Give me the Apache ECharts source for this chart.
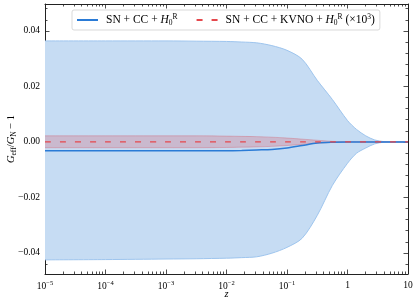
<!DOCTYPE html>
<html><head><meta charset="utf-8">
<script src="https://cdn.jsdelivr.net/npm/echarts@6/dist/echarts.min.js"></script>
<style>html,body{margin:0;padding:0;background:#fff}#c{width:415px;height:301px}</style>
</head><body><div id="c"></div>
<script>
// redshift sample points
const zValues = [1e-5, 1e-4, 1e-3, 0.00316, 0.01, 0.0178, 0.0316, 0.0562, 0.1, 0.178, 0.316, 0.562, 1, 1.41, 2, 2.82, 4, 5.62, 10];
// SN + CC + H0R : band and central line
const blueUpper   = [0.0364, 0.0364, 0.0364, 0.0363, 0.0362, 0.0360, 0.0357, 0.0347, 0.0330, 0.0298, 0.0222, 0.0153, 0.0077, 0.0045, 0.0022, 0.0007, 0.0001, 0, 0];
const blueLower   = [-0.0425, -0.0424, -0.0422, -0.0421, -0.0419, -0.0417, -0.0414, -0.0401, -0.0380, -0.0347, -0.0265, -0.0157, -0.0077, -0.0041, -0.0022, -0.0007, -0.0001, 0, 0];
const blueCentral = [-0.0032, -0.0032, -0.0032, -0.0032, -0.0032, -0.0031, -0.0029, -0.0027, -0.0022, -0.0013, -0.0004, -0.0001, 0, 0, 0, 0, 0, 0, 0];
// SN + CC + KVNO + H0R (x10^3) : band and central line
const redUpper    = [0.0022, 0.0022, 0.0022, 0.0022, 0.0021, 0.0020, 0.0019, 0.0017, 0.0014, 0.0010, 0.0006, 0.0002, 0.00005, 0, 0, 0, 0, 0, 0];
const redLower    = [-0.0021, -0.0021, -0.0021, -0.0021, -0.0020, -0.0019, -0.0018, -0.0016, -0.0013, -0.0009, -0.0005, -0.0002, -0.00005, 0, 0, 0, 0, 0, 0];
const redCentral  = [0, 0, 0, 0, 0, 0, 0, 0, 0, 0, 0, 0, 0, 0, 0, 0, 0, 0, 0];
// ticks
const yMajorTicks = [-0.04, -0.02, 0, 0.02, 0.04];
const xMajorTicks = [1e-5, 1e-4, 1e-3, 1e-2, 1e-1, 1, 10];
const yMin = -0.0476, yMax = 0.0497;

const yMinorTicks = [];
for (let k = -11; k <= 12; k++) { if (k % 5 !== 0) yMinorTicks.push(+(k * 0.004).toFixed(4)); }
const xMinorTicks = [];
for (let e = -5; e <= 0; e++) for (let m = 2; m <= 9; m++) xMinorTicks.push(+(m * Math.pow(10, e)).toPrecision(3));

const FONT = 'Liberation Serif';
const pair = (arr) => zValues.map((z, i) => [z, arr[i]]);
const axisCol = '#222';

function xAxisDef(pos, ticks, len, showLine, showLabel) {
  return {
    type: 'log', logBase: 10, min: 1e-5, max: 10, position: pos, gridIndex: 0,
    axisLine: { show: showLine, onZero: false, lineStyle: { color: axisCol, width: 1 } },
    axisTick: { show: true, inside: true, length: len, customValues: ticks, lineStyle: { color: axisCol, width: 0.8 } },
    axisLabel: showLabel ? {
      show: true, customValues: xMajorTicks, margin: 6, color: '#000', fontFamily: FONT, fontSize: 9.5,
      formatter: (v) => {
        const e = Math.round(Math.log10(v));
        if (e === 0) return '1';
        if (e === 1) return '10';
        return '10{sup|' + (e < 0 ? '\u2212' : '') + Math.abs(e) + '}';
      },
      rich: { sup: { fontSize: 6.5, fontFamily: FONT, color: '#000', padding: [0, 0, 6, 0] } }
    } : { show: false },
    splitLine: { show: false }, minorTick: { show: false }, minorSplitLine: { show: false },
    name: showLabel ? 'z' : '', nameLocation: 'middle', nameGap: 15, nameMoveOverlap: false,
    nameTextStyle: { fontFamily: FONT, fontStyle: 'italic', fontSize: 10.5, color: '#000' }
  };
}
function yAxisDef(pos, ticks, len, showLine, showLabel) {
  return {
    type: 'value', min: yMin, max: yMax, position: pos, gridIndex: 0,
    axisLine: { show: showLine, onZero: false, lineStyle: { color: axisCol, width: 1 } },
    axisTick: { show: true, inside: true, length: len, customValues: ticks, lineStyle: { color: axisCol, width: 0.8 } },
    axisLabel: showLabel ? {
      show: true, customValues: yMajorTicks, margin: 5, color: '#000', fontFamily: FONT, fontSize: 9.5,
      formatter: (v) => (v < 0 ? '\u2212' : '') + Math.abs(v).toFixed(2)
    } : { show: false },
    splitLine: { show: false },
    name: showLabel ? '{i|G}{sub|eff}{n|/}{i|G}{sub|N}{n| \u2212 1}' : '',
    nameLocation: 'middle', nameGap: 27, nameRotate: 90, nameMoveOverlap: false,
    nameTextStyle: {
      fontFamily: FONT, fontSize: 10.5, color: '#000',
      rich: {
        i: { fontFamily: FONT, fontStyle: 'italic', fontSize: 10.5, color: '#000' },
        n: { fontFamily: FONT, fontSize: 10.5, color: '#000' },
        sub: { fontFamily: FONT, fontSize: 7.5, color: '#000', padding: [5, 0, 0, 0] }
      }
    }
  };
}

const LFS = 11.5;
const legendRich = {
  t: { fontFamily: FONT, fontSize: LFS, color: '#000' },
  i: { fontFamily: FONT, fontStyle: 'italic', fontSize: LFS, color: '#000' },
  sub: { fontFamily: FONT, fontSize: 7.5, color: '#000', padding: [6, 0, 0, 0] },
  sup: { fontFamily: FONT, fontSize: 7.5, color: '#000', padding: [0, 0, 6, 0] }
};

const chart = echarts.init(document.getElementById('c'), null, { renderer: 'canvas' });
chart.setOption({
  animation: false,
  backgroundColor: '#fff',
  grid: { left: 45, right: 7, top: 4, bottom: 27, containLabel: false, outerBoundsMode: 'none' },
  xAxis: [
    xAxisDef('bottom', xMajorTicks, 4.5, true, true),
    xAxisDef('bottom', xMinorTicks, 2.5, false, false),
    xAxisDef('top', xMajorTicks, 4.5, true, false),
    xAxisDef('top', xMinorTicks, 2.5, false, false)
  ],
  yAxis: [
    yAxisDef('left', yMajorTicks, 4.5, true, true),
    yAxisDef('left', yMinorTicks, 2.5, false, false),
    yAxisDef('right', yMajorTicks, 4.5, true, false),
    yAxisDef('right', yMinorTicks, 2.5, false, false)
  ],
  legend: {
    data: ['blue', 'red'],
    left: 72, top: 10,
    itemWidth: 21, itemHeight: 10, itemGap: 18,
    padding: [3, 5, 3, 4],
    backgroundColor: '#fff', borderColor: '#cfcfcf', borderWidth: 0.8, borderRadius: 2,
    selectedMode: false,
    itemStyle: { opacity: 0 },
    textStyle: { fontFamily: FONT, fontSize: LFS, color: '#000', padding: [0, 0, 0, 3], rich: legendRich },
    formatter: (name) => name === 'blue'
      ? '{t|SN + CC + }{i|H}{sub|0}{sup|R}'
      : '{t|SN + CC + KVNO + }{i|H}{sub|0}{sup|R}{t| (\u00d710}{sup|3}{t|)}'
  },
  series: [
    { name: 'blueBandU', type: 'line', data: pair(blueUpper), symbol: 'none', smooth: 0.3, z: 1,
      lineStyle: { color: '#9ec5ee', width: 1 }, areaStyle: { color: '#c6dcf3', opacity: 1, origin: 0 } },
    { name: 'blueBandL', type: 'line', data: pair(blueLower), symbol: 'none', smooth: 0.3, z: 1,
      lineStyle: { color: '#9ec5ee', width: 1 }, areaStyle: { color: '#c6dcf3', opacity: 1, origin: 0 } },
    { name: 'redBandU', type: 'line', data: pair(redUpper), symbol: 'none', smooth: 0.3, z: 2,
      lineStyle: { color: 'rgba(215,60,70,0.35)', width: 0.8 }, areaStyle: { color: 'rgb(220,45,60)', opacity: 0.2, origin: 0 } },
    { name: 'redBandL', type: 'line', data: pair(redLower), symbol: 'none', smooth: 0.3, z: 2,
      lineStyle: { color: 'rgba(215,60,70,0.35)', width: 0.8 }, areaStyle: { color: 'rgb(220,45,60)', opacity: 0.2, origin: 0 } },
    { name: 'blue', type: 'line', data: pair(blueCentral), symbol: 'none', smooth: 0.3, z: 3,
      color: '#2a7bd6', lineStyle: { color: '#2a7bd6', width: 1.5 } },
    { name: 'red', type: 'line', data: pair(redCentral), symbol: 'none', smooth: 0.3, z: 4,
      color: '#e5484d', lineStyle: { color: '#e5484d', width: 1.3, type: [6, 9] } }
  ]
});
</script></body></html>
